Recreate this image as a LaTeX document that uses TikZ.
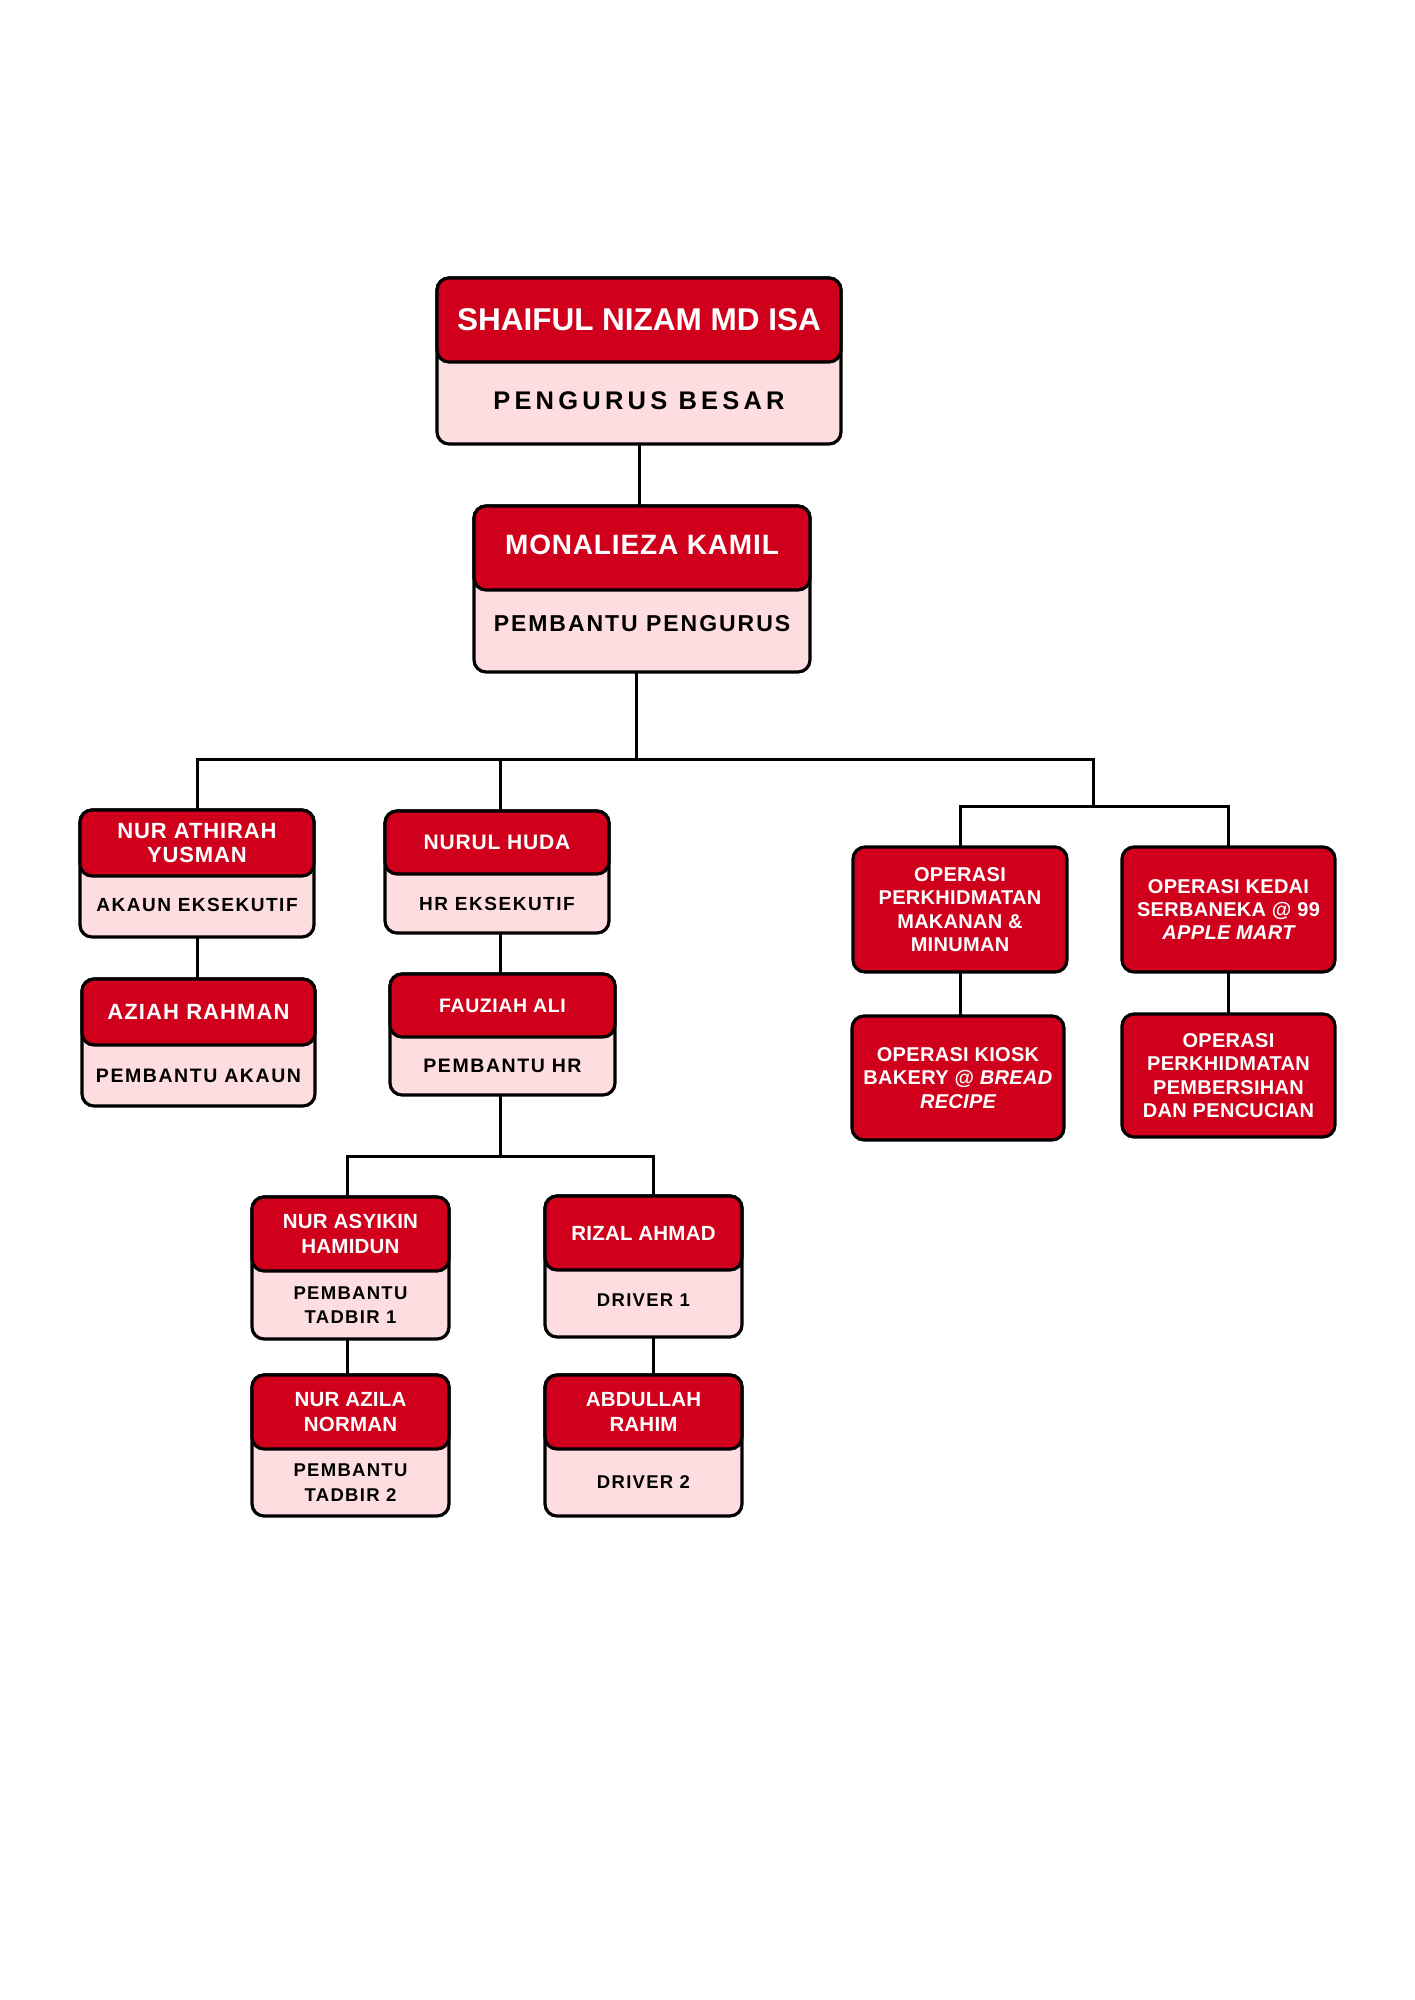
\documentclass[tikz,border=0pt]{standalone}
\usepackage{fontspec}
\setmainfont{Liberation Sans}
\usetikzlibrary{calc,backgrounds}
\definecolor{redhd}{RGB}{208,0,28}
\definecolor{pinkbg}{RGB}{253,221,224}
\newcommand\fsz[3]{\bfseries\fontsize{#1}{#2}\selectfont\addfontfeature{LetterSpace=#3}}
\tikzset{
  cardbody/.style={draw=black, line width=3.2pt, fill=pinkbg, rounded corners=12pt, inner sep=0pt, outer sep=0pt, anchor=north west},
  cardhead/.style={draw=black, line width=3.2pt, fill=redhd, rounded corners=12pt, inner sep=0pt, outer sep=0pt, anchor=north west},
  opbox/.style={draw=black, line width=3.2pt, fill=redhd, rounded corners=12pt, inner sep=0pt, outer sep=0pt, anchor=north west, text=white, align=center, font={\fsz{20}{23.3}{1.5}}},
  headtxt/.style={text=white, align=center, inner sep=0pt},
  roletxt/.style={text=black, align=center, inner sep=0pt},
  conn/.style={draw=black, line width=3pt},
}
\newcommand\cardbox[6]{%
  \pgfmathsetmacro\cwd{#4-#2}\pgfmathsetmacro\chd{#5-#3}\pgfmathsetmacro\crh{#6-#3}%
  \node[cardbody, minimum width=\cwd pt, minimum height=\chd pt] (#1) at (#2,#3) {};%
  \node[cardhead, minimum width=\cwd pt, minimum height=\crh pt] (#1h) at (#2,#3) {};%
  \coordinate (#1r) at ($(#1h.south)!0.5!(#1.south)$);%
}
\begin{document}
\begin{tikzpicture}[x=1pt,y=-1pt]
\useasboundingbox (0,0) rectangle (1414,2000);

\cardbox{c1}{437}{278}{841}{444}{362}
\cardbox{c2}{474}{506}{810}{672}{590}
\cardbox{athirah}{80}{810}{314}{937}{876}
\cardbox{aziah}{82}{979}{315}{1106}{1045}
\cardbox{nurul}{385}{811}{609}{933}{874}
\cardbox{fauziah}{390}{974}{615}{1095}{1037}
\cardbox{asyikin}{252}{1197}{449}{1339}{1271}
\cardbox{azila}{252}{1375}{449}{1516}{1449}
\cardbox{rizal}{545}{1196}{742}{1337}{1270}
\cardbox{abdullah}{545}{1375}{742}{1516}{1449}

\node[headtxt, font={\fsz{31.5}{36}{0}}] (c1t) at (c1h.center) {SHAIFUL NIZAM MD ISA};
\node[roletxt, font={\fsz{25.5}{30}{16.5}}] (c1rt) at ($(c1r)+(0,-2)$) {PENGURUS BESAR};
\node[headtxt, font={\fsz{28}{32}{3}}] (c2t) at ($(c2h.center)+(0,-3)$) {MONALIEZA KAMIL};
\node[roletxt, font={\fsz{23}{27}{8.5}}] (c2rt) at ($(c2r)+(0,-7)$) {PEMBANTU PENGURUS};

\node[headtxt, font={\fsz{22}{24.3}{4}}] (athiraht) at (athirahh.center) {NUR ATHIRAH\\YUSMAN};
\node[roletxt, font={\fsz{19}{23}{8}}] (athirahrt) at ($(athirahr)+(0,-2)$) {AKAUN EKSEKUTIF};
\node[headtxt, font={\fsz{22}{24.3}{5}}] (aziaht) at (aziahh.center) {AZIAH RAHMAN};
\node[roletxt, font={\fsz{19.5}{23}{8}}] (aziahrt) at (aziahr) {PEMBANTU AKAUN};

\node[headtxt, font={\fsz{21}{24.3}{4}}] (nurult) at (nurulh.center) {NURUL HUDA};
\node[roletxt, font={\fsz{19}{23}{8}}] (nurulrt) at (nurulr) {HR EKSEKUTIF};
\node[headtxt, font={\fsz{19.5}{24.3}{3}}] (fauziaht) at (fauziahh.center) {FAUZIAH ALI};
\node[roletxt, font={\fsz{19.5}{23}{8}}] (fauziahrt) at (fauziahr) {PEMBANTU HR};

\node[headtxt, font={\fsz{20.5}{24.3}{1}}] (asyikint) at (asyikinh.center) {NUR ASYIKIN\\HAMIDUN};
\node[roletxt, font={\fsz{18.5}{24.3}{7}}] (asyikinrt) at (asyikinr) {PEMBANTU\\TADBIR 1};
\node[headtxt, font={\fsz{20.5}{24.3}{1}}] (azilat) at (azilah.center) {NUR AZILA\\NORMAN};
\node[roletxt, font={\fsz{18.5}{24.3}{7}}] (azilart) at (azilar) {PEMBANTU\\TADBIR 2};
\node[headtxt, font={\fsz{20.5}{24.3}{1}}] (rizalt) at (rizalh.center) {RIZAL AHMAD};
\node[roletxt, font={\fsz{18.5}{24.3}{7}}] (rizalrt) at ($(rizalr)+(0,-3)$) {DRIVER 1};
\node[headtxt, font={\fsz{20.5}{24.3}{1}}] (abdullaht) at (abdullahh.center) {ABDULLAH\\RAHIM};
\node[roletxt, font={\fsz{18.5}{24.3}{7}}] (abdullahrt) at (abdullahr) {DRIVER 2};

\node[opbox, minimum width=214pt, minimum height=125pt] (op1) at (853,847) {OPERASI\\PERKHIDMATAN\\MAKANAN \&\\MINUMAN};
\node[opbox, minimum width=213pt, minimum height=125pt] (op2) at (1122,847) {OPERASI KEDAI\\SERBANEKA @ 99\\\itshape APPLE MART};
\node[opbox, minimum width=212pt, minimum height=124pt] (op3) at (852,1016) {OPERASI KIOSK\\BAKERY @ \textit{BREAD}\\\itshape RECIPE};
\node[opbox, minimum width=213pt, minimum height=123pt] (op4) at (1122,1014) {OPERASI\\PERKHIDMATAN\\PEMBERSIHAN\\DAN PENCUCIAN};

\coordinate (j1) at (636,759);
\coordinate (j2) at (1093,806);
\coordinate (j3) at (500,1156);
\coordinate (j4) at (653,1156);
\coordinate (j5) at (347,1156);

\begin{scope}[on background layer]
\fill[white] (0,0) rectangle (1414,2000);
\draw[conn] (c1.south) -- (c1.south |- c2.north);
\draw[conn] (j1 |- c2.south) -- (j1);
\draw[conn] (athirah.north) |- (j2 |- j1) -- (j2);
\draw[conn] (j3 |- nurul.north) -- (j3 |- j1);
\draw[conn] (op1.north) |- (j2) -| (op2.north);
\draw[conn] (athirah.south) -- (athirah.south |- aziah.north);
\draw[conn] (j3 |- nurul.south) -- (j3 |- fauziah.north);
\draw[conn] (j3 |- fauziah.south) -- (j3);
\draw[conn] (j5 |- asyikin.north) -- (j5) -- (j4) -- (j4 |- rizal.north);
\draw[conn] (j5 |- asyikin.south) -- (j5 |- azila.north);
\draw[conn] (j4 |- rizal.south) -- (j4 |- abdullah.north);
\draw[conn] (op1.south) -- (op1.south |- op3.north);
\draw[conn] (op2.south) -- (op2.south |- op4.north);
\end{scope}
\end{tikzpicture}
\end{document}
